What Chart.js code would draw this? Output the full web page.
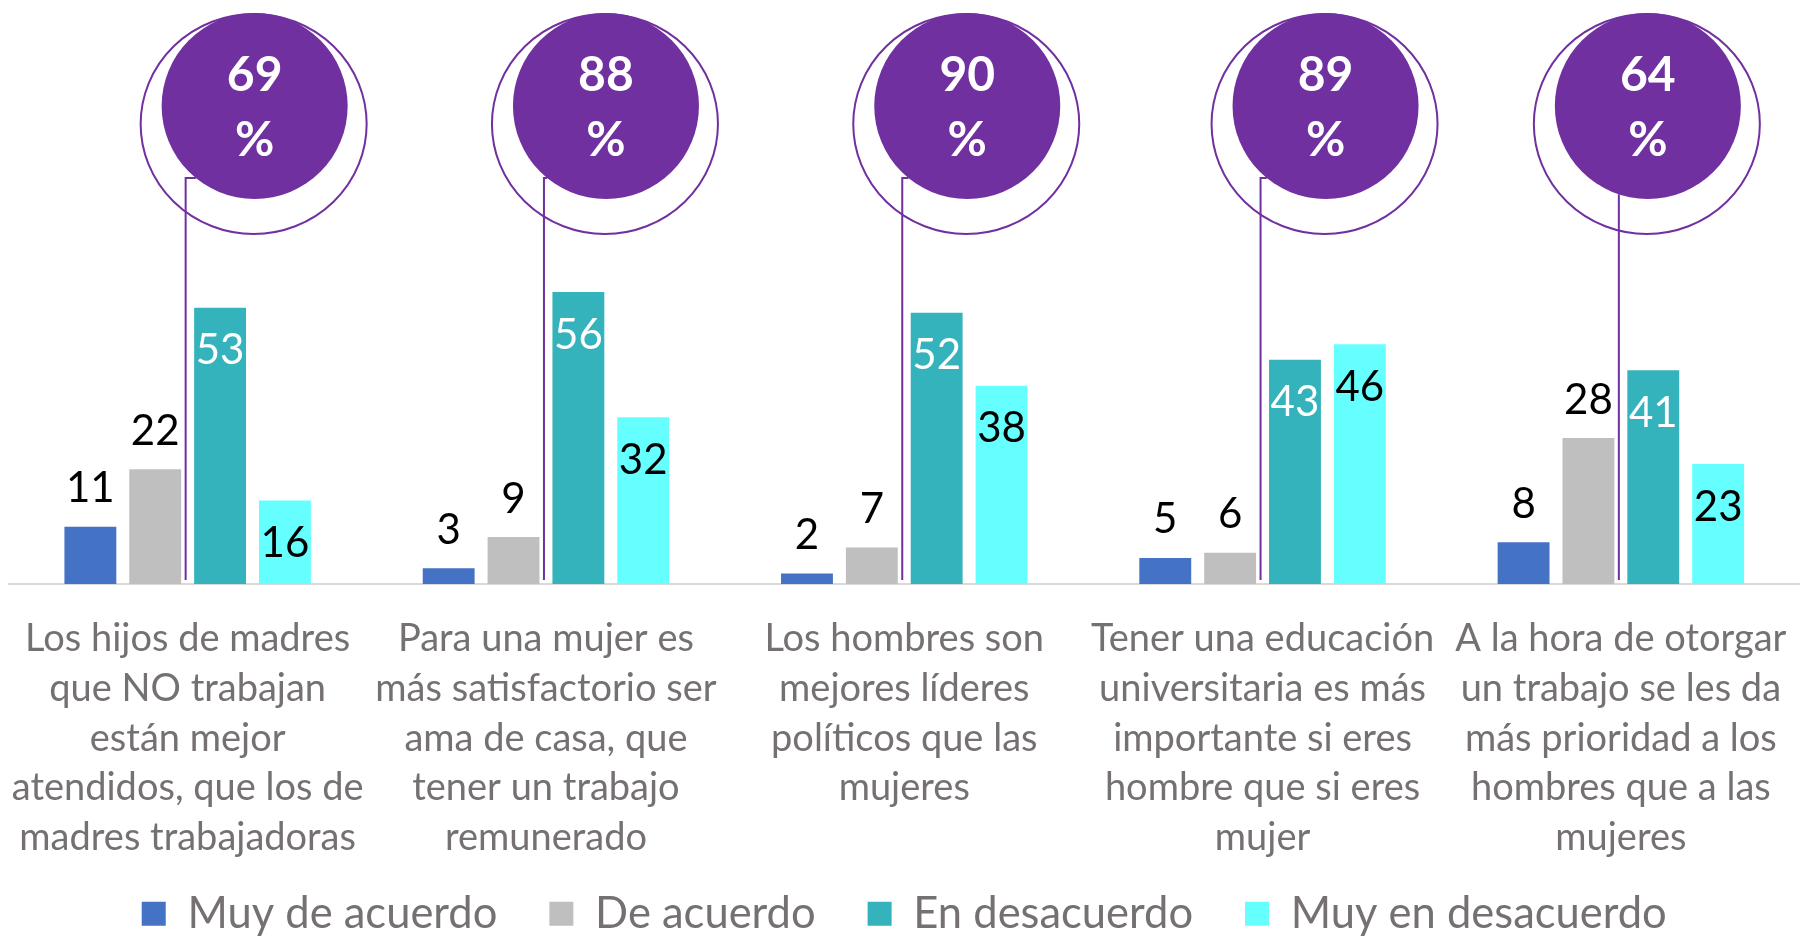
<!DOCTYPE html>
<html lang="es">
<head>
<meta charset="utf-8">
<title>Actitudes sobre roles de género</title>
<script src="https://cdn.jsdelivr.net/npm/chart.js@4.4.1/dist/chart.umd.min.js"></script>
<style>
  html, body { margin: 0; padding: 0; background: #fff; }
  #wrap { width: 1800px; height: 940px; position: relative; }
</style>
</head>
<body>
<div id="wrap"><canvas id="actitudesChart"></canvas></div>
<script>
// categorias (cada una partida en lineas como en el original)
const categorias = [
    ['Los hijos de madres', 'que NO trabajan', 'están mejor', 'atendidos, que los de', 'madres trabajadoras'],
    ['Para una mujer es', 'más satisfactorio ser', 'ama de casa, que', 'tener un trabajo', 'remunerado'],
    ['Los hombres son', 'mejores líderes', 'políticos que las', 'mujeres'],
    ['Tener una educación', 'universitaria es más', 'importante si eres', 'hombre que si eres', 'mujer'],
    ['A la hora de otorgar', 'un trabajo se les da', 'más prioridad a los', 'hombres que a las', 'mujeres'],
];
const series = ['Muy de acuerdo', 'De acuerdo', 'En desacuerdo', 'Muy en desacuerdo'];

const muyDeAcuerdo = [11, 3, 2, 5, 8];
const deAcuerdo = [22, 9, 7, 6, 28];
const enDesacuerdo = [53, 56, 52, 43, 41];
const muyEnDesacuerdo = [16, 32, 38, 46, 23];

// % total en desacuerdo (burbujas)
const totalDesacuerdo = [69, 88, 90, 89, 64];

(function () {
    const canvas = document.getElementById('actitudesChart');
    if (!canvas) return;

    const PURPLE = '#7030A0';
    const GRAY_TEXT = '#767171';
    Chart.defaults.font.family = 'Lato, "Open Sans", sans-serif';

    // etiquetas de valor: fuera para las dos primeras series, dentro para las otras
    const valueLabels = {
        id: 'valueLabels',
        afterDatasetsDraw(chart) {
            const ctx = chart.ctx;
            ctx.save();
            ctx.font = '42px Lato, sans-serif';
            ctx.textAlign = 'center';
            ctx.textBaseline = 'middle';
            chart.data.datasets.forEach((ds, di) => {
                const meta = chart.getDatasetMeta(di);
                meta.data.forEach((bar, i) => {
                    const v = ds.data[i];
                    let y, color;
                    if (di < 2) { y = bar.y - 38; color = '#000'; }
                    else { y = bar.y + 43; color = di === 2 ? '#fff' : '#000'; }
                    ctx.fillStyle = color;
                    ctx.fillText(String(v), bar.x, y);
                });
            });
            ctx.restore();
        }
    };

    // burbujas moradas con linea guia hasta el grupo
    const bubbles = {
        id: 'bubbles',
        afterDatasetsDraw(chart, args, opts) {
            const {ctx, chartArea, scales} = chart;
            const xs = scales.x;
            const r = 93;
            ctx.save();
            totalDesacuerdo.forEach((v, i) => {
                const center = xs.getPixelForValue(i);
                const cx = center + opts.offsets[i];
                const cy = chartArea.top + 106;

                ctx.strokeStyle = PURPLE;
                ctx.lineWidth = 2;
                ctx.beginPath();
                ctx.ellipse(cx - 1, cy + 18, 113, 110, 0, 0, Math.PI * 2);
                ctx.stroke();

                ctx.fillStyle = PURPLE;
                ctx.beginPath();
                ctx.arc(cx, cy, r, 0, Math.PI * 2);
                ctx.fill();

                // linea guia
                const lx = center - 2;
                const ty = chartArea.top + 178;
                const edge = cx - Math.sqrt(r * r - Math.pow(ty - cy, 2));
                ctx.beginPath();
                ctx.moveTo(lx, chartArea.bottom - 4);
                if (lx < edge) {
                    ctx.lineTo(lx, ty);
                    ctx.lineTo(edge, ty);
                } else {
                    const dx = lx - cx;
                    ctx.lineTo(lx, cy + Math.sqrt(r * r - dx * dx));
                }
                ctx.stroke();

                ctx.fillStyle = '#fff';
                ctx.font = 'bold 48px Lato, sans-serif';
                ctx.textAlign = 'center';
                ctx.textBaseline = 'middle';
                ctx.fillText(String(v), cx, cy - 30);
                ctx.fillText('%', cx, cy + 35);
            });
            ctx.restore();
        }
    };

    // sube la leyenda: el padding horizontal grande la empuja demasiado abajo
    const legendShift = {
        id: 'legendShift',
        afterLayout(chart, args, opts) {
            if (!chart.legend) return;
            chart.legend.top -= opts.dy;
        }
    };

    const colors = ['#4472C4', '#BFBFBF', '#35B3BC', '#66FFFF'];
    const values = [muyDeAcuerdo, deAcuerdo, enDesacuerdo, muyEnDesacuerdo];

    new Chart(canvas, {
        type: 'bar',
        data: {
            labels: categorias,
            datasets: series.map((name, k) => ({
                label: name,
                data: values[k],
                backgroundColor: colors[k],
                borderWidth: 0,
                categoryPercentage: 0.724,
                barPercentage: 0.8,
            })),
        },
        options: {
            responsive: true,
            maintainAspectRatio: false,
            animation: false,
            layout: { padding: { top: 0, left: 8.5, right: 0, bottom: 0 } },
            scales: {
                x: {
                    grid: { display: false, drawTicks: true, tickLength: 30 },
                    border: { display: true, color: '#D9D9D9', width: 2 },
                    ticks: {
                        color: GRAY_TEXT,
                        font: { size: 38, lineHeight: 1.308 },
                        padding: 0,
                        maxRotation: 0,
                        minRotation: 0,
                        autoSkip: false,
                    },
                    afterFit(scale) { scale.height = 280; },
                },
                y: { display: false, min: 0, max: 112 },
            },
            plugins: {
                tooltip: { enabled: false },
                legend: {
                    position: 'bottom',
                    maxHeight: 76,
                    labels: {
                        color: GRAY_TEXT,
                        font: { size: 43.5 },
                        boxWidth: 24,
                        boxHeight: 24,
                        padding: 52,
                    },
                },
                legendShift: { dy: 24 },
                bubbles: { offsets: [67, 60, 63, 63, 27] },
            },
        },
        plugins: [valueLabels, bubbles, legendShift],
    });
})();
</script>
</body>
</html>
